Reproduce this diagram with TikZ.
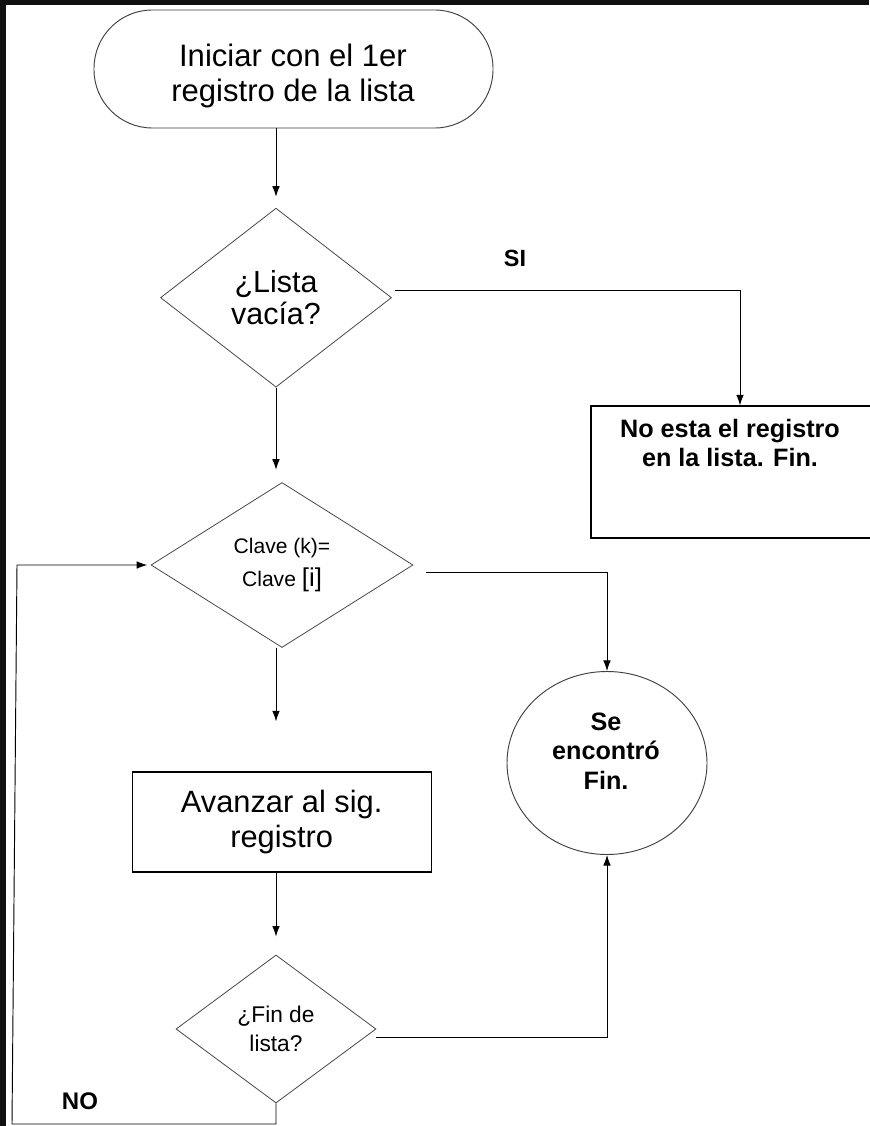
\documentclass[tikz,border=0pt]{standalone}
\usepackage{fontspec}
\setmainfont{Liberation Sans}
\usepackage{tikz}
\usetikzlibrary{shapes,arrows.meta,positioning}
\definecolor{frame}{HTML}{111111}

\begin{document}
\begin{tikzpicture}[
      term/.style={rectangle, rounded corners=1.75cm, draw=black!75, line width=0.8pt, minimum width=11.97cm, minimum height=3.54cm},
      cond/.style={diamond, draw=black!70, line width=0.7pt, inner sep=0pt, aspect=1.4, align=center},
      proc/.style={rectangle, draw=black, line width=1pt, align=center},
      txt/.style={align=center, inner sep=0pt},
      line/.style={draw, line width=0.8pt, -{Latex[length=9pt,width=6.5pt]}}
    ]
    \useasboundingbox (0,0) rectangle (26.07,-33.78);
    \fill[frame] (0,0) rectangle (26.07,-33.78);
    \fill[white] (0.18,-0.15) rectangle (26.07,-33.78);

    \node[term] (start) at (8.805,-2.07) {};
    \node[txt, font=\fontsize{26.5}{30}\selectfont] (starttxt) at (8.79,-2.28) {Iniciar con el 1er\\registro de la lista};
    \node[cond, minimum width=6.93cm, minimum height=5.37cm, font=\fontsize{26}{28}\selectfont] (vacia) at (8.28,-8.93) {¿Lista\\vacía?};
    \node[font=\bfseries\fontsize{20}{24}\selectfont] (si) at (15.45,-7.74) {SI};
    \node[proc, minimum width=8.4cm, minimum height=3.96cm] (noesta) at (21.93,-14.16) {};
    \node[txt, font=\bfseries\fontsize{21.5}{24.5}\selectfont] (noestatxt) at (21.9,-13.28) {No esta el registro\\en la lista. Fin.};
    \node[cond, minimum width=7.86cm, minimum height=4.95cm, font=\fontsize{18}{28}\selectfont] (clave) at (8.46,-16.95) {Clave (k)=\\Clave {\fontsize{22}{28}\selectfont[i]}};
    \node[ellipse, draw=black!75, line width=0.8pt, minimum width=6cm, minimum height=5.49cm] (found) at (18.21,-22.89) {};
    \node[txt, font=\bfseries\fontsize{21.5}{25}\selectfont] (foundtxt) at (18.18,-22.53) {Se\\encontró\\Fin.};
    \node[proc, minimum width=8.97cm, minimum height=3cm, font=\fontsize{26.3}{30}\selectfont] (avanzar) at (8.45,-24.66) {Avanzar al sig.\\registro};
    \node[cond, minimum width=6cm, minimum height=4.44cm, font=\fontsize{19.4}{24.7}\selectfont] (finlista) at (8.28,-30.87) {¿Fin de\\lista?};
    \node[font=\bfseries\fontsize{20.5}{24}\selectfont] (no) at (2.4,-33.03) {NO};
    \coordinate (loopbl) at (0.36,-33.72);
    \coordinate (looptl) at (0.51,-16.95);

    \draw[line, shorten >=0.33cm] (start.south -| vacia.north) -- (vacia.north);
    \draw[line] ([xshift=0.1cm, yshift=0.23cm]vacia.east) -| ([xshift=0.27cm]noesta.north);
    \draw[line, shorten >=0.37cm] (vacia.south) -- (vacia.south |- clave.north);
    \draw[line] ([xshift=0.39cm, yshift=-0.21cm]clave.east) -| (found.north);
    \draw[line, shorten >=1.5cm] (clave.south -| vacia.south) -- (vacia.south |- avanzar.north);
    \draw[line, shorten >=0.54cm] (avanzar.south -| finlista.north) -- (finlista.north);
    \draw[line] ([yshift=-0.24cm]finlista.east) -| (found.south);
    \draw[line, shorten >=0.1cm] (finlista.south) -- (finlista.south |- loopbl) -- (loopbl) -- (looptl) -- (clave.west);
  \end{tikzpicture}
\end{document}
